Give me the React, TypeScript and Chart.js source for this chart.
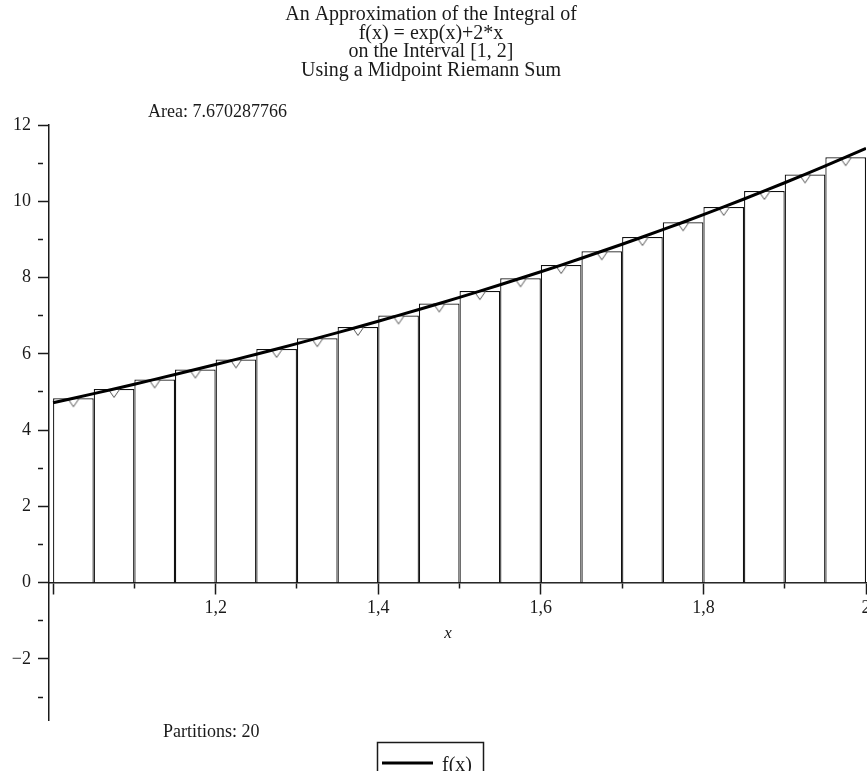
import React, { useEffect, useRef } from 'react';
import { Chart, registerables } from 'chart.js';

Chart.register(...registerables);

// ---- Text content ----
const TITLE_LINES = [
  'An Approximation of the Integral of',
  'f(x) = exp(x)+2*x',
  'on the Interval [1, 2]',
  'Using a Midpoint Riemann Sum',
];
const AREA_TEXT = 'Area: 7.670287766';
const PARTITIONS_TEXT = 'Partitions: 20';
const LEGEND_LABEL = 'f(x)';
const X_AXIS_TITLE = 'x';

// ---- Data ----
// Midpoints of the 20 partitions and f at each midpoint (rectangle heights)
const midpoints = [
  1.025, 1.075, 1.125, 1.175, 1.225, 1.275, 1.325, 1.375, 1.425, 1.475,
  1.525, 1.575, 1.625, 1.675, 1.725, 1.775, 1.825, 1.875, 1.925, 1.975,
];
const midValues = [
  4.837, 5.080, 5.330, 5.588, 5.854, 6.129, 6.412, 6.705, 7.008, 7.321,
  7.645, 7.981, 8.328, 8.689, 9.063, 9.450, 9.853, 10.271, 10.705, 11.157,
];
// Points of the curve f(x) = exp(x)+2x
const curveX = [
  1.0, 1.025, 1.05, 1.075, 1.1, 1.125, 1.15, 1.175, 1.2, 1.225,
  1.25, 1.275, 1.3, 1.325, 1.35, 1.375, 1.4, 1.425, 1.45, 1.475,
  1.5, 1.525, 1.55, 1.575, 1.6, 1.625, 1.65, 1.675, 1.7, 1.725,
  1.75, 1.775, 1.8, 1.825, 1.85, 1.875, 1.9, 1.925, 1.95, 1.975, 2.0,
];
const curveY = [
  4.718, 4.837, 4.958, 5.080, 5.204, 5.330, 5.458, 5.588, 5.720, 5.854,
  5.990, 6.129, 6.269, 6.412, 6.557, 6.705, 6.855, 7.008, 7.163, 7.321,
  7.482, 7.645, 7.811, 7.981, 8.153, 8.328, 8.507, 8.689, 8.874, 9.063,
  9.255, 9.450, 9.650, 9.853, 10.060, 10.271, 10.486, 10.705, 10.929, 11.157, 11.389,
];
// Tick labels
const xTickValues = [1.2, 1.4, 1.6, 1.8, 2];
const xTickTexts = ['1,2', '1,4', '1,6', '1,8', '2'];
const yTickValues = [12, 10, 8, 6, 4, 2, 0, -2];
const yTickTexts = ['12', '10', '8', '6', '4', '2', '0', '\u22122'];

const X_MIN = 0.995;
const X_MAX = 2.0;
const Y_MIN = -3.6;
const Y_MAX = 12;

const FONT = '"Liberation Serif", "Times New Roman", serif';
const INK = '#1a1a1a';

function makeMarker(): HTMLCanvasElement {
  const c = document.createElement('canvas');
  c.width = 14;
  c.height = 20;
  const g = c.getContext('2d')!;
  g.beginPath();
  g.moveTo(1.5, 10.5);
  g.lineTo(12.5, 10.5);
  g.lineTo(7, 18.5);
  g.closePath();
  g.fillStyle = '#ffffff';
  g.fill();
  g.strokeStyle = '#555555';
  g.lineWidth = 1;
  g.stroke();
  return c;
}

const textPlugin = {
  id: 'mapleTexts',
  afterDraw(chart: any) {
    const ctx = chart.ctx as CanvasRenderingContext2D;
    ctx.save();
    ctx.fillStyle = INK;
    // Title
    ctx.font = `20px ${FONT}`;
    ctx.textAlign = 'center';
    ctx.textBaseline = 'alphabetic';
    const baselines = [20, 38.5, 57, 75.5];
    TITLE_LINES.forEach((t, i) => ctx.fillText(t, 431, baselines[i]));
    // Annotations
    ctx.font = `18px ${FONT}`;
    ctx.textAlign = 'left';
    ctx.fillText(AREA_TEXT, 148, 117);
    ctx.fillText(PARTITIONS_TEXT, 163, 737);
    // x axis title
    ctx.font = `italic 17px ${FONT}`;
    ctx.textAlign = 'center';
    ctx.textBaseline = 'middle';
    ctx.fillText(X_AXIS_TITLE, 448, 634);
    // Legend
    ctx.strokeStyle = INK;
    ctx.lineWidth = 1.5;
    ctx.strokeRect(377.5, 742.5, 106, 40);
    ctx.beginPath();
    ctx.lineWidth = 3;
    ctx.strokeStyle = '#000';
    ctx.moveTo(382, 763);
    ctx.lineTo(433, 763);
    ctx.stroke();
    ctx.font = `20px ${FONT}`;
    ctx.textAlign = 'left';
    ctx.textBaseline = 'middle';
    ctx.fillText(LEGEND_LABEL, 442, 766);
    ctx.restore();
  },
};

function xLabel(v: number): string {
  const i = xTickValues.findIndex((t) => Math.abs(t - v) < 1e-6);
  return i >= 0 ? xTickTexts[i] : '';
}
function yLabel(v: number): string {
  const i = yTickValues.findIndex((t) => Math.abs(t - v) < 1e-6);
  return i >= 0 ? yTickTexts[i] : '';
}

export default function App() {
  const ref = useRef<HTMLCanvasElement | null>(null);

  useEffect(() => {
    if (!ref.current) return;
    const marker = makeMarker();
    const zeroPad = (s: any) => {
      s.paddingLeft = 0;
      s.paddingRight = 0;
    };
    const chart = new Chart(ref.current, {
      type: 'line',
      data: {
        datasets: [
          {
            type: 'line',
            label: LEGEND_LABEL,
            data: curveX.map((x, i) => ({ x, y: curveY[i] })),
            borderColor: '#000000',
            borderWidth: 3,
            pointRadius: 0,
            tension: 0,
            fill: false,
            order: 0,
          } as any,
          {
            type: 'scatter',
            label: 'midpoints',
            data: midpoints.map((x, i) => ({ x, y: midValues[i] })),
            pointStyle: marker,
            pointRadius: 7,
            showLine: false,
            order: 1,
          } as any,
          {
            type: 'bar',
            label: 'rectangles',
            data: midpoints.map((x, i) => ({ x, y: midValues[i] })),
            backgroundColor: '#ffffff',
            borderColor: '#111111',
            borderWidth: 1.25,
            barPercentage: 1,
            categoryPercentage: 1,
            inflateAmount: 0,
            order: 2,
          } as any,
        ],
      },
      options: {
        animation: false,
        responsive: false,
        maintainAspectRatio: false,
        events: [],
        layout: { autoPadding: false, padding: { top: 125, bottom: 51, left: 0, right: 1 } },
        plugins: {
          legend: { display: false },
          title: { display: false },
          tooltip: { enabled: false },
        },
        scales: {
          x: {
            type: 'linear',
            position: { y: 0 } as any,
            min: X_MIN,
            max: X_MAX,
            offset: false,
            afterFit: zeroPad,
            afterUpdate: zeroPad,
            border: { display: true, color: INK, width: 1.5 },
            grid: {
              drawOnChartArea: false,
              offset: false,
              tickLength: 11,
              tickColor: INK,
              tickWidth: 1.5,
              tickBorderDash: (c: any) =>
                c.tick && Math.round(c.tick.value * 10) % 2 !== 0 ? [5, 50] : [],
            } as any,
            ticks: {
              stepSize: 0.1,
              includeBounds: false,
              autoSkip: false,
              maxRotation: 0,
              minRotation: 0,
              padding: 4,
              color: INK,
              font: { family: FONT, size: 18 },
              callback: (v: any) => xLabel(Number(v)),
            },
          },
          y: {
            type: 'linear',
            position: 'left',
            min: Y_MIN,
            max: Y_MAX,
            afterFit: (s: any) => {
              s.width = 49;
            },
            border: { display: true, color: INK, width: 1.5 },
            grid: {
              drawOnChartArea: false,
              tickLength: 11,
              tickColor: INK,
              tickWidth: 1.5,
              tickBorderDash: (c: any) =>
                c.tick && Math.round(c.tick.value) % 2 !== 0 ? [5, 50] : [],
            } as any,
            ticks: {
              stepSize: 1,
              includeBounds: false,
              autoSkip: false,
              padding: 7,
              color: INK,
              font: { family: FONT, size: 18 },
              callback: (v: any) => yLabel(Number(v)),
            },
          },
        },
      },
      plugins: [textPlugin],
    } as any);
    return () => chart.destroy();
  }, []);

  return (
    <div style={{ position: 'absolute', left: 0, top: 0, width: 867, height: 771, background: '#fff' }}>
      <canvas ref={ref} width={867} height={771} style={{ width: 867, height: 771, display: 'block' }} />
    </div>
  );
}
